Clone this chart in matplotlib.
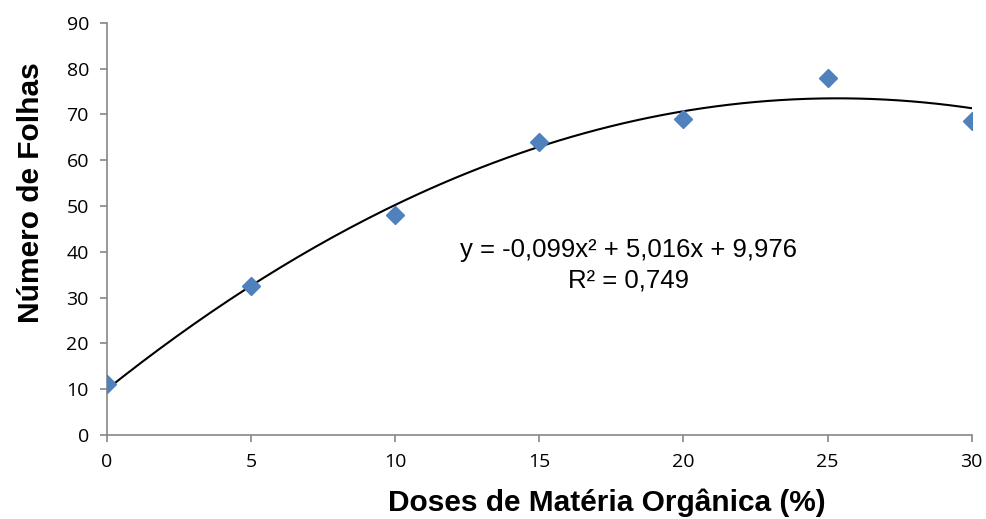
import numpy as np
import matplotlib
matplotlib.use("Agg")
import matplotlib.pyplot as plt

doses = [0, 5, 10, 15, 20, 25, 30]
folhas = [11.1, 32.5, 48.0, 64.0, 69.0, 78.0, 68.6]
trend_coef = [-0.099, 5.016, 9.976]
equation = "y = -0,099x² + 5,016x + 9,976"
r2_text = "R² = 0,749"
xticks = [0, 5, 10, 15, 20, 25, 30]
yticks = [0, 10, 20, 30, 40, 50, 60, 70, 80, 90]

fig = plt.figure(figsize=(9.86, 5.19), dpi=100)
ax = fig.add_axes([0.1085, 0.162, 0.877, 0.794])

xs = np.linspace(min(doses), max(doses), 200)
ax.plot(xs, np.polyval(trend_coef, xs), color="black", lw=1.5, zorder=2)
ax.plot(doses, folhas, linestyle="none", marker="D", ms=9.5, color="#4F81BD", zorder=3)

ax.set_xlim(0, 30)
ax.set_ylim(0, 90)
ax.set_xticks(xticks)
ax.set_yticks(yticks)
ax.set_xticklabels([str(t) for t in xticks], fontsize=14, family="Open Sans")
ax.set_yticklabels([str(t) for t in yticks], fontsize=14, family="Open Sans")
for s in ["top", "right"]:
    ax.spines[s].set_visible(False)
for s in ["left", "bottom"]:
    ax.spines[s].set_color("#868686")
    ax.spines[s].set_linewidth(1.2)
    ax.spines[s].set_clip_on(False)
ax.tick_params(axis="both", direction="out", length=5, width=1.2, color="#868686")
ax.tick_params(axis="x", pad=8)
ax.tick_params(axis="y", pad=8)

ax.set_xlabel("Doses de Matéria Orgânica (%)", fontsize=21.5, fontweight="bold",
              family="Liberation Sans")
ax.set_ylabel("Número de Folhas", fontsize=21.5, fontweight="bold",
              family="Liberation Sans")
ax.xaxis.set_label_coords(0.578, -0.165)
ax.yaxis.set_label_coords(-0.088, 0.589)
ax.xaxis.label.set_va("center")
ax.yaxis.label.set_va("center")

ax.text(18.1, 40.4, equation, ha="center", va="center", fontsize=18.5, family="Liberation Sans")
ax.text(18.1, 33.7, r2_text, ha="center", va="center", fontsize=18.5, family="Liberation Sans")

fig.savefig("out.png", dpi=100)
